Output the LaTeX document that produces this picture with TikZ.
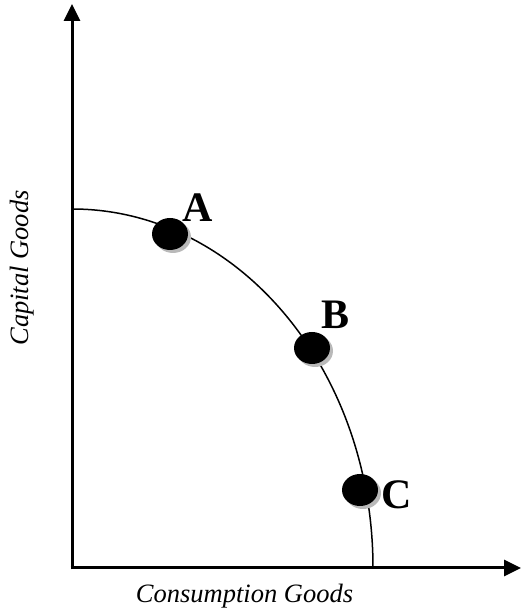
\documentclass[tikz,border=0pt]{standalone}
\usepackage{fontspec}
\setmainfont{Liberation Serif}
\usetikzlibrary{arrows.meta,shapes.geometric,shadows}
\begin{document}
\begin{tikzpicture}[x=1pt,y=1pt,
  axis/.style={line width=3pt,-{Triangle[length=17pt,width=16pt]}},
  curveline/.style={line width=1.5pt},
  dot/.style={ellipse,fill=black,minimum width=36pt,minimum height=32pt,inner sep=0pt,
    drop shadow={shadow xshift=3pt,shadow yshift=-3pt,fill=gray!55,opacity=1}},
  ptlabel/.style={font=\bfseries\fontsize{42}{44}\selectfont,inner sep=0pt},
  axlabel/.style={font=\itshape\fontsize{26.5}{28}\selectfont,inner sep=0pt}]
\useasboundingbox (0,0) rectangle (523,610);
\coordinate (O) at (72,42);
\coordinate (ytop) at (72,606);
\coordinate (xend) at (521,42);
\coordinate (cstart) at (72,401);
\draw[curveline] (cstart) arc[start angle=90,end angle=0,x radius=301,y radius=359];
\draw[axis] ([xshift=-1.5pt]O) -- (xend);
\draw[axis] ([yshift=-1.5pt]O) -- (ytop);
\node[dot] (dA) at (170,376) {};
\node[dot] (dB) at (312,262) {};
\node[dot] (dC) at (360,120) {};
\node[ptlabel] (lA) at (197.5,402.5) {A};
\node[ptlabel] (lB) at (335.5,295.5) {B};
\node[ptlabel] (lC) at (396.5,115.5) {C};
\node[axlabel,rotate=90] (ly) at (22,342) {Capital Goods};
\node[axlabel] (lx) at (244.5,14) {Consumption Goods};
\end{tikzpicture}
\end{document}
